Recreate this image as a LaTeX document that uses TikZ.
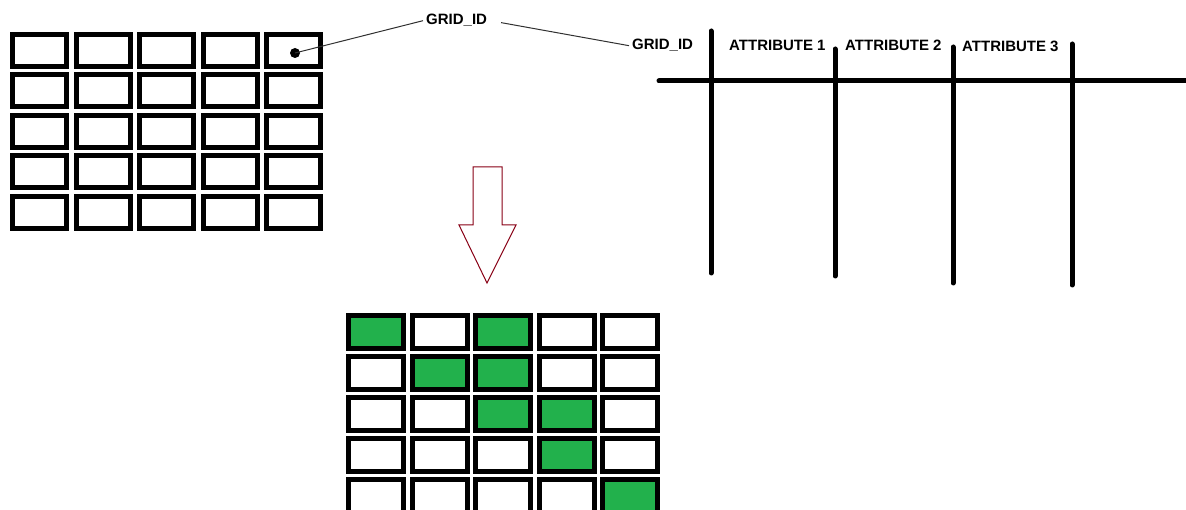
\documentclass[tikz,border=0pt]{standalone}
\usepackage{fontspec}
\setmainfont{Liberation Sans}
\usepackage{xcolor}
\usepackage{tikz}
\definecolor{cellgreen}{HTML}{22B14C}
\definecolor{arrowred}{HTML}{880015}
\definecolor{leader}{HTML}{303030}
\tikzset{
  cell/.style={draw=black, line width=5pt, fill=white, inner sep=0pt, anchor=north west},
  cellA/.style={cell, minimum width=54pt, minimum height=32pt},
  cellB/.style={cell, minimum width=55pt, minimum height=33pt},
  rule/.style={draw=black, line width=5pt, line cap=round},
  link/.style={draw=leader, line width=1pt},
  dot/.style={circle, fill=black, inner sep=0pt, minimum size=10pt},
  lab/.style={font=\fontsize{15}{18}\selectfont\bfseries, inner sep=3pt, anchor=base west},
  bigarrow/.style={draw=arrowred, line width=1pt, fill=white, line join=miter},
}

\begin{document}
\begin{tikzpicture}[x=1pt,y=-1pt]
  \useasboundingbox (0,0) rectangle (1186,510);

  % source grid
  \foreach \r in {1,...,5}
    \foreach \c in {1,...,5}
      \node[cellA] (a\r\c) at ({10+(\c-1)*63.5},{32+(\r-1)*40.5}) {};

  \node[dot] (gid) at (295,53) {};
  \node[lab] (idtop) at (423,25) {GRID\_ID};
  \node[lab] (idcol) at (629,50) {GRID\_ID};
  \draw[link] (gid.center) -- (idtop.west);
  \draw[link, shorten <=11pt] (idtop.east) -- (idcol.west);

  % attribute table
  \draw[rule] (659,81) -- (1190,81);
  \draw[rule] (711,31) -- (711,273);
  \draw[rule] (835,49) -- (835,276);
  \draw[rule] (953,47) -- (953,283);
  \draw[rule] (1072,44) -- (1072,285);
  \node[lab] (att1) at (726,51) {ATTRIBUTE 1};
  \node[lab] (att2) at (842,51) {ATTRIBUTE 2};
  \node[lab] (att3) at (959,52) {ATTRIBUTE 3};

  % arrow down
  \draw[bigarrow] (473,167) -- (502,167) -- (502,225) -- (516,225)
    -- (487,283) -- (459,225) -- (473,225) -- cycle;

  % selected cells
  \foreach \r/\row in {1/{cellgreen,white,cellgreen,white,white},
                       2/{white,cellgreen,cellgreen,white,white},
                       3/{white,white,cellgreen,cellgreen,white},
                       4/{white,white,white,cellgreen,white},
                       5/{white,white,white,white,cellgreen}}
    \foreach \f [count=\c] in \row
      \node[cellB, fill=\f] (b\r\c) at ({346+(\c-1)*63.5},{313+(\r-1)*41}) {};
\end{tikzpicture}
\end{document}
